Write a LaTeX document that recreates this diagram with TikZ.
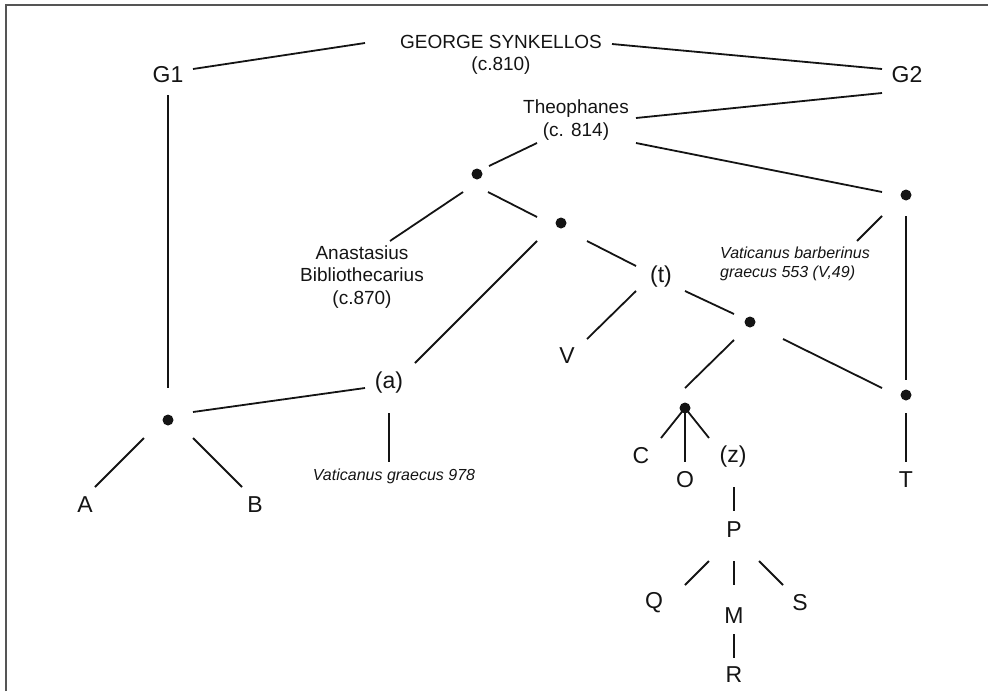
\documentclass[tikz,border=0pt]{standalone}
\usepackage{fontspec}
\setmainfont{Liberation Sans}
\usetikzlibrary{calc}
\definecolor{ink}{HTML}{141414}
\definecolor{framecol}{HTML}{555555}
\begin{document}
\begin{tikzpicture}[x=1pt,y=-1pt,
  lbl/.style={inner sep=0pt, text=ink, font=\fontsize{23}{26}\selectfont},
  nm/.style={inner sep=0pt, text=ink, align=center, font=\fontsize{19}{22.5}\selectfont},
  ms/.style={inner sep=0pt, text=ink, font=\fontsize{16}{19}\selectfont\itshape},
  dot/.style={circle, fill=ink, inner sep=0pt, minimum size=11pt},
  link/.style={draw=ink, line width=1.8pt}]
\useasboundingbox (0,0) rectangle (988,691);
\draw[draw=framecol, line width=1.4pt] (6,691) -- (6,5) -- (988,5);

% nodes
\node[nm] (gs) at (501,55) {GEORGE SYNKELLOS\\(c.810)};
\node[lbl] (g1) at (168,75) {G1};
\node[lbl] (g2) at (907,75) {G2};
\node[nm] (theo) at (576,120) {Theophanes\\(c. 814)};
\node[dot] (d1) at (477,174) {};
\node[dot] (d2) at (561,223) {};
\node[nm] (anast) at (362,277) {Anastasius\\Bibliothecarius\\(c.870)};
\node[lbl] (t) at (661,277) {(t)};
\node[lbl] (v) at (567,356) {V};
\node[dot] (dr) at (906,195) {};
\node[ms, anchor=west, align=left] (barb) at (720,264) {Vaticanus barberinus\\graecus 553 (V,49)};
\node[dot] (d3) at (750,322) {};
\node[lbl] (a) at (389,383) {(a)};
\node[dot] (dg1) at (168,420) {};
\node[lbl] (A) at (85,505) {A};
\node[lbl] (B) at (255,505) {B};
\node[ms] (vg) at (394,476) {Vaticanus graecus 978};
\node[dot] (d4) at (685,408) {};
\node[dot] (dT) at (906,395) {};
\node[lbl] (T) at (906,480) {T};
\node[lbl] (C) at (641,456) {C};
\node[lbl] (O) at (685,480) {O};
\node[lbl] (z) at (733,457) {(z)};
\node[lbl] (P) at (734,530) {P};
\node[lbl] (Q) at (654,603) {Q};
\node[lbl] (M) at (734,616) {M};
\node[lbl] (S) at (800,603) {S};
\node[lbl] (R) at (734,675) {R};

% connectors
\draw[link] ($(gs)+(-136,-12)$) -- ($(g1)+(25,-6)$);
\draw[link] ($(gs)+(111,-11)$) -- ($(g2)+(-25,-6)$);
\draw[link] ($(g2)+(-25,18)$) -- ($(theo)+(60,-2)$);
\draw[link] ($(theo)+(-39,23)$) -- ($(d1)+(12,-8)$);
\draw[link] ($(theo)+(60,23)$) -- ($(dr)+(-24,-3)$);
\draw[link] ($(g1)+(0,20)$) -- ($(dg1)+(0,-32)$);
\draw[link] ($(d1)+(-14,18)$) -- ($(anast)+(28,-36)$);
\draw[link] ($(d1)+(11,18)$) -- ($(d2)+(-24,-6)$);
\draw[link] ($(d2)+(-24,18)$) -- ($(a)+(26,-20)$);
\draw[link] ($(d2)+(26,18)$) -- ($(t)+(-25,-11)$);
\draw[link] ($(t)+(-25,14)$) -- ($(v)+(20,-17)$);
\draw[link] ($(t)+(24,14)$) -- ($(d3)+(-16,-8)$);
\draw[link] ($(dr)+(-24,21)$) -- ($(barb.west)+(137,-23)$);
\draw[link] ($(dr)+(0,21)$) -- ($(dT)+(0,-15)$);
\draw[link] ($(d3)+(-16,18)$) -- ($(d4)+(0,-20)$);
\draw[link] ($(d3)+(33,17)$) -- ($(dT)+(-24,-7)$);
\draw[link] ($(dT)+(0,18)$) -- ($(T)+(0,-18)$);
\draw[link] ($(dg1)+(25,-8)$) -- ($(a)+(-24,5)$);
\draw[link] ($(dg1)+(-24,18)$) -- ($(A)+(10,-18)$);
\draw[link] ($(dg1)+(25,18)$) -- ($(B)+(-13,-18)$);
\draw[link] ($(a)+(0,30)$) -- ($(vg)+(-5,-14)$);
\draw[link] (d4.center) -- ($(C)+(20,-18)$);
\draw[link] (d4.center) -- ($(O)+(0,-18)$);
\draw[link] (d4.center) -- ($(z)+(-24,-19)$);
\draw[link] ($(z)+(1,30)$) -- ($(P)+(0,-19)$);
\draw[link] ($(P)+(-25,31)$) -- ($(Q)+(31,-18)$);
\draw[link] ($(P)+(0,31)$) -- ($(M)+(0,-31)$);
\draw[link] ($(P)+(25,31)$) -- ($(S)+(-17,-18)$);
\draw[link] ($(M)+(0,18)$) -- ($(R)+(0,-17)$);
\end{tikzpicture}
\end{document}
